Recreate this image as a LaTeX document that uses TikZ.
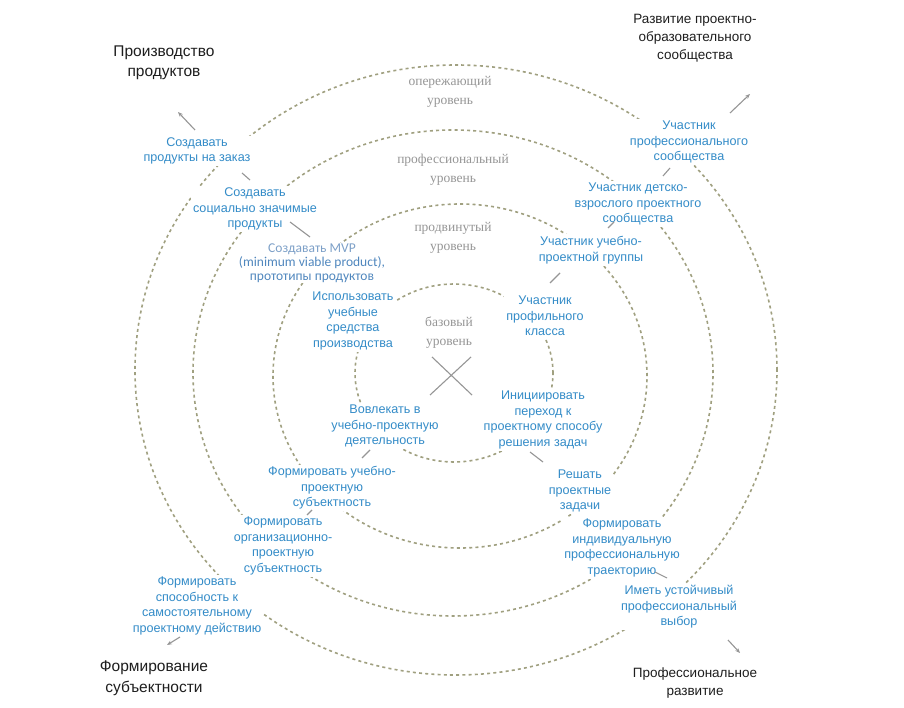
\documentclass[tikz,border=0pt]{standalone}
\usepackage{fontspec}
\setmainfont{Liberation Sans}
\newfontfamily\serifru{Liberation Serif}
\newfontfamily\mvpfont{Carlito}
\usetikzlibrary{arrows.meta,calc,backgrounds}
\definecolor{lblblue}{RGB}{52,140,200}
\definecolor{mvpblue}{RGB}{80,135,190}
\definecolor{mvplight}{RGB}{125,160,200}
\definecolor{ringc}{RGB}{160,160,128}
\definecolor{axisc}{RGB}{150,150,150}
\definecolor{lvlc}{RGB}{150,150,150}
\definecolor{ttl}{RGB}{30,30,30}
\begin{document}
\begin{tikzpicture}[x=1pt,y=-1pt,
  ring/.style={draw=ringc,line width=1.6pt,dash pattern=on 3pt off 3.2pt},
  lbl/.style={fill=white,text=lblblue,align=center,inner sep=2pt,font=\fontsize{12.6}{15.5}\selectfont},
  mvp/.style={fill=white,text=mvpblue,align=center,inner sep=1pt,font=\mvpfont\fontsize{13.5}{14}\selectfont},
  lvl/.style={fill=white,text=lvlc,align=center,inner sep=1pt,font=\serifru\fontsize{13.5}{19}\selectfont},
  ttlbox/.style={text=ttl,align=center,font=\fontsize{13.5}{18}\selectfont},
  bigttl/.style={text=ttl,align=center,font=\fontsize{15.5}{20.5}\selectfont},
  axis/.style={draw=axisc,line width=1.1pt},
  arr/.style={axis,-{Stealth[length=5pt,width=4pt]}}
]
\useasboundingbox (0,0) rectangle (904,708);

% titles
\node[bigttl] (t1) at (164,63) {Производство\\продуктов};
\node[ttlbox] (t2) at (695,38) {Развитие проектно-\\образовательного\\сообщества};
\node[bigttl] (t3) at (154,678) {Формирование\\субъектности};
\node[ttlbox] (t4) at (695,683) {Профессиональное\\развитие};

% level labels
\node[lvl] (l1) at (450,92) {опережающий\\уровень};
\node[lvl] (l2) at (453,170) {профессиональный\\уровень};
\node[lvl] (l3) at (453,238) {продвинутый\\уровень};
\node[lvl] (l4) at (449,333) {базовый\\уровень};

% NW
\node[lbl] (a1) at (197,151) {Создавать\\продукты на заказ};
\node[lbl] (a2) at (255,209) {Создавать\\социально значимые\\продукты};
\node[mvp] (a3) at (312,263) {\textcolor{mvplight}{Создавать MVP}\\(minimum viable product),\\прототипы продуктов};
\node[lbl] (a4) at (353,321) {Использовать\\учебные\\средства\\производства};
% NE
\node[lbl] (b1) at (689,142) {Участник\\профессионального\\сообщества};
\node[lbl] (b2) at (638,204) {Участник детско-\\взрослого проектного\\сообщества};
\node[lbl] (b3) at (591,250) {Участник учебно-\\проектной группы};
\node[lbl] (b4) at (545,316) {Участник\\профильного\\класса};
% SE
\node[lbl] (c1) at (543,420) {Инициировать\\переход к\\проектному способу\\решения задач};
\node[lbl] (c2) at (580,491) {Решать\\проектные\\задачи};
\node[lbl] (c3) at (622,548) {Формировать\\индивидуальную\\профессиональную\\траекторию};
\node[lbl] (c4) at (679,607) {Иметь устойчивый\\профессиональный\\выбор};
% SW
\node[lbl] (d1) at (385,426) {Вовлекать в\\учебно-проектную\\деятельность};
\node[lbl] (d2) at (332,488) {Формировать учебно-\\проектную\\субъектность};
\node[lbl] (d3) at (283,546) {Формировать\\организационно-\\проектную\\субъектность};
\node[lbl] (d4) at (197,606) {Формировать\\способность к\\самостоятельному\\проектному действию};

% background: white and rings
\begin{scope}[on background layer]
  \fill[white] (0,0) rectangle (904,708);
  \draw[ring] (454,373) ellipse [x radius=99pt, y radius=89pt];
  \draw[ring] (460,376) ellipse [x radius=187pt, y radius=172pt];
  \draw[ring] (453,373) ellipse [x radius=260pt, y radius=243pt];
  \draw[ring] (456,370) ellipse [x radius=321pt, y radius=305pt];
\end{scope}

% centre cross
\coordinate (x1) at (432,357);
\coordinate (x2) at (472,395);
\coordinate (x3) at (471,357);
\coordinate (x4) at (430,395);
\draw[axis] (x1) -- (x2);
\draw[axis] (x3) -- (x4);

% axis segments
\draw[arr] ($(a1)+(-2,-21)$) -- ($(t1)+(14,49)$);
\draw[axis] ($(a1)+(45,22)$) -- ($(a2)+(-5,-29)$);
\draw[axis] ($(a2)+(35,13)$) -- ($(a3)+(-2,-26)$);

\draw[arr] ($(b1)+(41,-29)$) -- ($(t2)+(55,56)$);
\draw[axis] ($(b1)+(-19,26)$) -- ($(b2)+(25,-28)$);
\draw[axis] ($(b2)+(-24,18)$) -- ($(b3)+(17,-22)$);
\draw[axis] ($(b3)+(-31,23)$) -- ($(b4)+(5,-33)$);

\draw[axis] ($(c1)+(-13,32)$) -- ($(c2)+(-37,-29)$);
\draw[axis] ($(c3)+(33,24)$) -- ($(c4)+(-12,-29)$);
\draw[arr] ($(c4)+(49,33)$) -- ($(t4)+(45,-30)$);

\draw[axis] ($(d1)+(-15,24)$) -- ($(d2)+(30,-30)$);
\draw[axis] ($(d2)+(-20,22)$) -- ($(d3)+(24,-31)$);
\draw[arr] ($(d4)+(-17,31)$) -- ($(t3)+(13,-33)$);
\end{tikzpicture}
\end{document}
